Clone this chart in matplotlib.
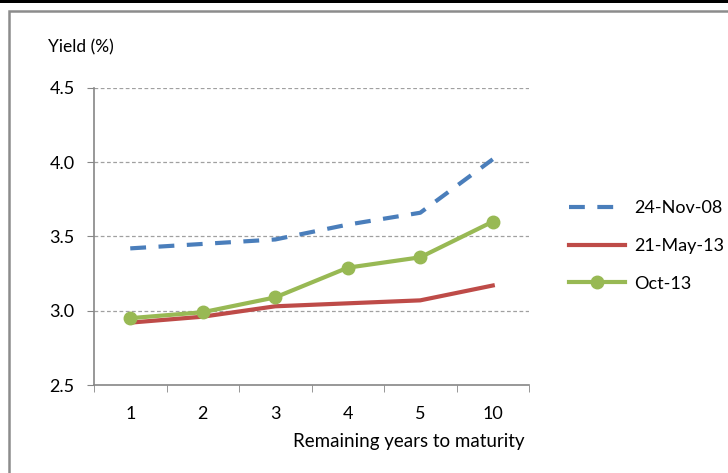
import matplotlib.pyplot as plt
from matplotlib.patches import Rectangle

plt.rcParams['font.family'] = ['Lato', 'DejaVu Sans']

maturities = ['1', '2', '3', '4', '5', '10']
nov08 = [3.42, 3.45, 3.48, 3.58, 3.66, 4.02]
may13 = [2.92, 2.96, 3.03, 3.05, 3.07, 3.17]
oct13 = [2.95, 2.99, 3.09, 3.29, 3.36, 3.60]
y_ticks = [2.5, 3.0, 3.5, 4.0, 4.5]

W, H = 728, 473
fig = plt.figure(figsize=(W / 100, H / 100), dpi=100)

# outer frame and top bar
fig.patches.append(Rectangle((0, 1 - 3 / H), 1, 3 / H, transform=fig.transFigure,
                             facecolor='black', edgecolor='none'))
fig.patches.append(Rectangle((9 / W, -0.1), 1.1, 1 - 11 / H + 0.1, transform=fig.transFigure,
                             facecolor='none', edgecolor='#8c8c8c', linewidth=1.8))

ax = fig.add_axes([94 / W, (H - 385) / H, (529 - 94) / W, (385 - 88) / H])
x = range(len(maturities))

ax.plot(x, nov08, color='#4a7ebb', lw=3, linestyle=(0, (3.8, 3)), label='24-Nov-08')
ax.plot(x, may13, color='#be4b48', lw=3, label='21-May-13')
ax.plot(x, oct13, color='#98b954', lw=3, marker='o', markersize=9, label='Oct-13')

ax.set_xlim(-0.5, len(maturities) - 0.5)
ax.set_ylim(2.5, 4.5)
ax.set_yticks(y_ticks)
ax.set_yticklabels([f'{v:.1f}' for v in y_ticks], fontsize=13)
ax.set_xticks(list(x))
ax.set_xticklabels(maturities, fontsize=13)
ax.tick_params(axis='x', length=0, pad=15)
ax.set_xticks([i - 0.5 for i in range(len(maturities) + 1)], minor=True)
ax.tick_params(axis='x', which='minor', length=5, color='#868686', direction='out')
ax.tick_params(axis='y', length=5, color='#868686', direction='out', pad=9)

for v in y_ticks[1:]:
    ax.axhline(v, color='#a0a0a0', lw=0.9, linestyle=(0, (3, 2)), zorder=0)

for side in ['top', 'right']:
    ax.spines[side].set_visible(False)
for side in ['left', 'bottom']:
    ax.spines[side].set_color('#868686')
    ax.spines[side].set_linewidth(1.2)

fig.text(48 / W, 1 - 47 / H, 'Yield (%)', fontsize=12.5, va='center', ha='left')
fig.text(293 / W, 1 - 441 / H, 'Remaining years to maturity', fontsize=13.5, va='center', ha='left')

ax.legend(loc='upper left', bbox_to_anchor=(553 / W, 1 - 184 / H), bbox_transform=fig.transFigure,
          frameon=False, fontsize=13, handlelength=3.1, labelspacing=1.2, handletextpad=0.5)

fig.savefig('out.png', dpi=100)
